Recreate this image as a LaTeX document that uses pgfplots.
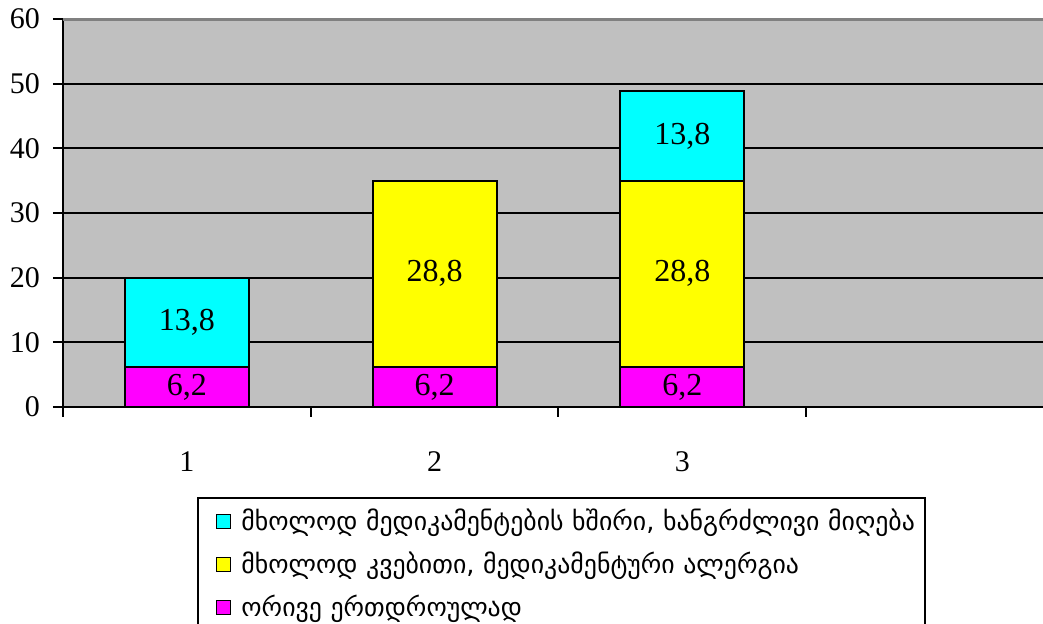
\documentclass[border=0pt]{standalone}
\usepackage{fontspec}
\setmainfont{Liberation Serif}
\newfontfamily\geofont[Script=Georgian]{DejaVu Sans}
\usepackage{pgfplots}
\pgfplotsset{compat=1.18}
\definecolor{plotgray}{RGB}{192,192,192}
\definecolor{bordergray}{RGB}{128,128,128}
\definecolor{cmag}{RGB}{255,0,255}
\definecolor{cyel}{RGB}{255,255,0}
\definecolor{ccya}{RGB}{0,255,255}
\begin{document}
\begin{tikzpicture}
\begin{axis}[
  at={(0,0)}, anchor=south west,
  scale only axis, width=490pt, height=194pt,
  xmin=0.5, xmax=4.456, ymin=0, ymax=60,
  ybar stacked, bar width=0.5,
  axis background/.style={fill=plotgray},
  axis x line*=bottom, axis y line*=left,
  axis line style={line width=1pt, black, -},
  ytick={0,10,...,50},
  extra y ticks={60},
  extra y tick style={grid style={bordergray, line width=1.5pt}},
  ymajorgrids, grid style={black, line width=1pt},
  xtick={0.5,1.5,2.5,3.5}, xticklabels={},
  extra x ticks={1,2,3}, extra x tick labels={1,2,3},
  extra x tick style={major tick length=0pt},
  tick align=outside, major tick length=5pt,
  tick style={black, line width=1pt},
  /pgf/number format/assume math mode=true,
  ticklabel style={font=\fontsize{15}{15}\selectfont},
  xticklabel style={anchor=center, yshift=-27.5pt},
  yticklabel style={anchor=east, xshift=-3pt},
  legend cell align=left,
  reverse legend,
  legend image code/.code={\draw[#1, line width=0.75pt] (0pt,-3.5pt) rectangle (7pt,3.5pt);},
  legend style={at={(0.1367,-0.232)}, anchor=north west, draw=black, line width=1pt, fill=white,
    font=\geofont\fontsize{12.9}{14}\selectfont,
    inner xsep=9pt, inner ysep=3.5pt, row sep=5.2pt, column sep=3pt,
    nodes={text width=331pt, align=left, inner sep=2pt}},
]
\addplot[fill=cmag, draw=black, line width=1pt] coordinates {(1,6.2) (2,6.2) (3,6.2)};
\addplot[fill=cyel, draw=black, line width=1pt] coordinates {(1,0) (2,28.8) (3,28.8)};
\addplot[fill=ccya, draw=black, line width=1pt] coordinates {(1,13.8) (2,0) (3,13.8)};
\legend{{\mbox{ორივე ერთდროულად}}, {\mbox{მხოლოდ კვებითი, მედიკამენტური ალერგია}}, {\mbox{მხოლოდ მედიკამენტების ხშირი, ხანგრძლივი მიღება}}}
\end{axis}
\begin{axis}[
  at={(0,0)}, anchor=south west,
  scale only axis, width=490pt, height=194pt,
  xmin=0.5, xmax=4.456, ymin=0, ymax=60,
  hide axis, clip=false,
]
\addplot[draw=none, mark=none, point meta=explicit symbolic,
  nodes near coords={\pgfplotspointmeta},
  every node near coord/.append style={anchor=center, font=\fontsize{16}{16}\selectfont, text=black}]
  table[meta=label] {
x y label
1 3.1 6,2
2 3.1 6,2
3 3.1 6,2
2 20.6 28,8
3 20.6 28,8
1 13.1 13,8
3 41.9 13,8
};
\end{axis}
\pgfresetboundingbox
\path[use as bounding box] (-31.5pt,-108.5pt) rectangle (490pt,203.5pt);
\end{tikzpicture}
\end{document}
